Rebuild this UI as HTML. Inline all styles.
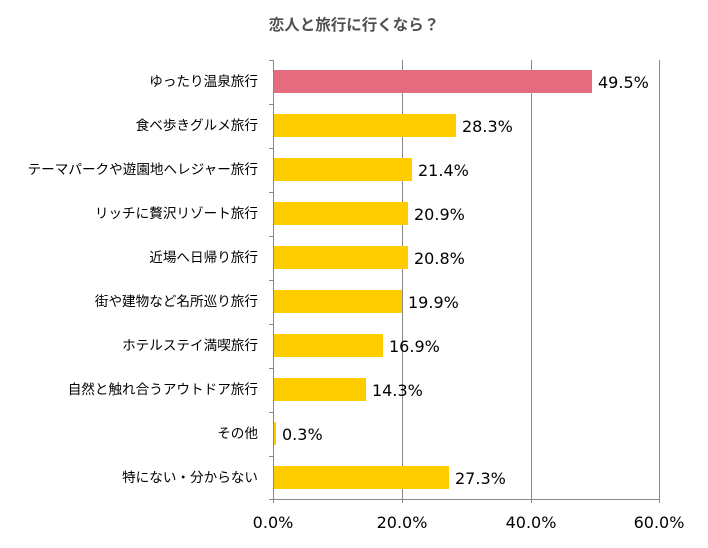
<!DOCTYPE html>
<html><head><meta charset="utf-8"><style>
body{margin:0;background:#fff;}
svg text{font-family:"DejaVu Sans","Liberation Sans","Noto Sans CJK JP",sans-serif;}
</style></head><body>
<svg width="708" height="543" viewBox="0 0 708 543" xmlns="http://www.w3.org/2000/svg">
<rect width="708" height="543" fill="#fff"/>
<text x="354" y="30" text-anchor="middle" font-size="15.5" font-weight="bold" fill="#505050" style="font-family:'Noto Sans CJK JP',sans-serif">恋人と旅行に行くなら？</text>
<g stroke="#888" stroke-width="1">
<line x1="402.5" y1="60" x2="402.5" y2="503"/>
<line x1="531.5" y1="60" x2="531.5" y2="503"/>
<line x1="659.5" y1="60" x2="659.5" y2="503"/>
<line x1="273.5" y1="60" x2="273.5" y2="503"/>
<line x1="273" y1="499.5" x2="660" y2="499.5"/>
<line x1="269" y1="60.5" x2="273" y2="60.5"/><line x1="269" y1="104.5" x2="273" y2="104.5"/><line x1="269" y1="148.5" x2="273" y2="148.5"/><line x1="269" y1="192.5" x2="273" y2="192.5"/><line x1="269" y1="236.5" x2="273" y2="236.5"/><line x1="269" y1="280.5" x2="273" y2="280.5"/><line x1="269" y1="324.5" x2="273" y2="324.5"/><line x1="269" y1="368.5" x2="273" y2="368.5"/><line x1="269" y1="412.5" x2="273" y2="412.5"/><line x1="269" y1="456.5" x2="273" y2="456.5"/><line x1="269" y1="499.5" x2="273" y2="499.5"/>
</g>
<g>
<rect x="274" y="70" width="318" height="23" fill="#E46C7E"/>
<rect x="274" y="114" width="182" height="23" fill="#FFCC00"/>
<rect x="274" y="158" width="138" height="23" fill="#FFCC00"/>
<rect x="274" y="202" width="134" height="23" fill="#FFCC00"/>
<rect x="274" y="246" width="134" height="23" fill="#FFCC00"/>
<rect x="274" y="290" width="128" height="23" fill="#FFCC00"/>
<rect x="274" y="334" width="109" height="23" fill="#FFCC00"/>
<rect x="274" y="378" width="92" height="23" fill="#FFCC00"/>
<rect x="274" y="422" width="2" height="23" fill="#FFCC00"/>
<rect x="274" y="466" width="175" height="23" fill="#FFCC00"/>
</g>
<g font-size="16" fill="#000">
<text x="598" y="88">49.5%</text>
<text x="462" y="132">28.3%</text>
<text x="418" y="176">21.4%</text>
<text x="414" y="220">20.9%</text>
<text x="414" y="264">20.8%</text>
<text x="408" y="308">19.9%</text>
<text x="389" y="352">16.9%</text>
<text x="372" y="396">14.3%</text>
<text x="282" y="440">0.3%</text>
<text x="455" y="484">27.3%</text>
</g>
<g font-size="13.6" fill="#000" text-anchor="end" style="font-family:'Noto Sans CJK JP',sans-serif">
<text x="258" y="86">ゆったり温泉旅行</text>
<text x="258" y="130">食べ歩きグルメ旅行</text>
<text x="258" y="174">テーマパークや遊園地へレジャー旅行</text>
<text x="258" y="218">リッチに贅沢リゾート旅行</text>
<text x="258" y="262">近場へ日帰り旅行</text>
<text x="258" y="306">街や建物など名所巡り旅行</text>
<text x="258" y="350">ホテルステイ満喫旅行</text>
<text x="258" y="394">自然と触れ合うアウトドア旅行</text>
<text x="258" y="438">その他</text>
<text x="258" y="482">特にない・分からない</text>
</g>
<g font-size="16" fill="#000" text-anchor="middle">
<text x="273" y="528">0.0%</text>
<text x="402" y="528">20.0%</text>
<text x="531" y="528">40.0%</text>
<text x="659" y="528">60.0%</text>
</g>
</svg>
</body></html>
